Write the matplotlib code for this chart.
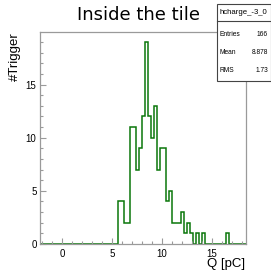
import numpy as np
import matplotlib
matplotlib.use("Agg")
import matplotlib.pyplot as plt
from matplotlib.ticker import MultipleLocator

# histogram: 0.3 pC bins starting at -2.2
bin_lo = -2.2
bin_w = 0.3
n_bins = 69
counts = [0] * 26 + [4, 4, 2, 2, 11, 11, 7, 9, 12, 19, 12, 10, 13, 7, 9, 9,
                     4, 5, 2, 2, 2, 3, 1, 2, 1, 0, 1, 0, 1,
                     0, 0, 0, 0, 0, 0, 0, 1, 0, 0, 0, 0, 0, 0]
edges = bin_lo + bin_w * np.arange(n_bins + 1)

hist_name = "hcharge_-3_0"
stats = [("Entries", "166"), ("Mean", "8.878"), ("RMS", "1.73")]

W = H = 271
fig = plt.figure(figsize=(W / 100, H / 100), dpi=100)
ax = fig.add_axes([40 / W, 27 / H, 205.5 / W, 212 / H])

ax.stairs(counts, edges, color="#0a760a", lw=1.1)
ax.set_xlim(-2.2, 18.35)
ax.set_ylim(0, 19.95)

gray = "#9a9a9a"
for s in ax.spines.values():
    s.set_color(gray)
    s.set_linewidth(0.9)
ax.xaxis.set_major_locator(MultipleLocator(5))
ax.xaxis.set_minor_locator(MultipleLocator(1))
ax.yaxis.set_major_locator(MultipleLocator(5))
ax.yaxis.set_minor_locator(MultipleLocator(1))
ax.tick_params(which="both", direction="in", color=gray, width=0.8,
               labelsize=7, labelfontfamily="Liberation Sans")
ax.tick_params(which="major", length=4.5)
ax.tick_params(which="minor", length=2.2)
ax.tick_params(axis="x", pad=3.5)
ax.tick_params(axis="y", pad=2.5)

ax.set_title("Inside the tile", fontsize=13, family="DejaVu Sans", pad=9)
ax.title.set_position((0.48, 1))
fig.text(15 / W, 1 - 32 / H, "#Trigger", rotation=90, ha="center", va="top",
         fontsize=9.5, family="Liberation Sans")
fig.text(245 / W, 1 - 270 / H, "Q [pC]", ha="right", va="bottom",
         fontsize=9.5, family="Liberation Sans")

# stats box
bx0, bx1, by0, by1 = 217, 270.5, 4.5, 81
fig.patches.append(plt.Rectangle((bx0 / W, 1 - by1 / H), (bx1 - bx0) / W,
                                 (by1 - by0) / H, transform=fig.transFigure,
                                 facecolor="white", edgecolor="#444444",
                                 lw=0.8, zorder=5))
fig.add_artist(plt.Line2D([bx0 / W, bx1 / W], [1 - 21 / H, 1 - 21 / H],
                          transform=fig.transFigure, color="#444444",
                          lw=0.8, zorder=6))
fig.text((bx0 + bx1) / 2 / W, 1 - 13 / H, hist_name, ha="center", va="center",
         fontsize=5.6, family="Liberation Sans", zorder=7)
for i, (k, v) in enumerate(stats):
    y = 1 - (35 + 18 * i) / H
    fig.text(220 / W, y, k, ha="left", va="center", fontsize=4.8,
             family="Liberation Sans", zorder=7)
    fig.text(268 / W, y, v, ha="right", va="center", fontsize=4.8,
             family="Liberation Sans", zorder=7)

fig.savefig("out.png", dpi=100)
